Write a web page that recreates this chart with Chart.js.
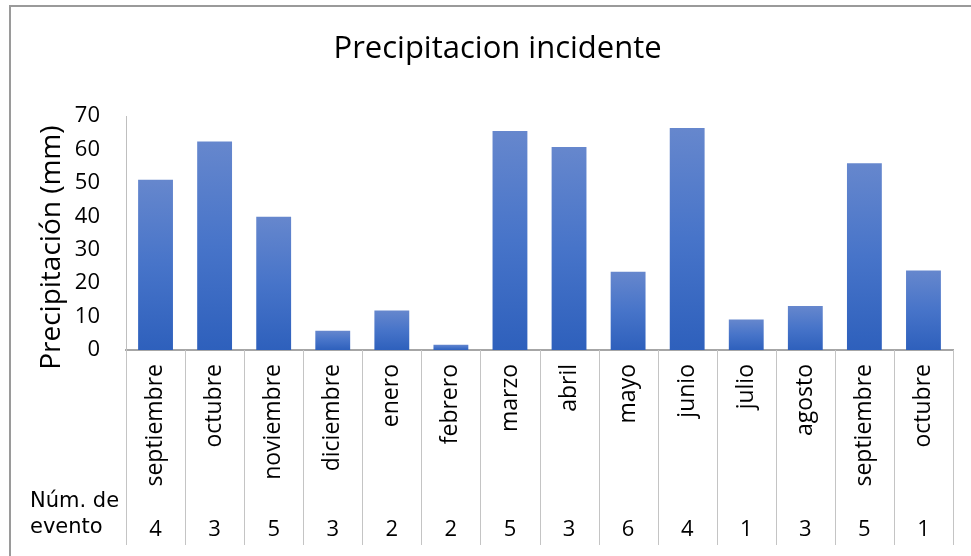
<!DOCTYPE html>
<html lang="es">
  <head>
    <meta charset="UTF-8" />
    <title>Precipitacion incidente</title>
    <script src="https://cdn.jsdelivr.net/npm/chart.js"></script>
    <style>
      html, body { margin: 0; padding: 0; background: #ffffff; }
      #chartBox { width: 971px; height: 556px; position: relative; }
    </style>
  </head>
  <body>
    <div id="chartBox">
      <canvas id="lluviaChart"></canvas>
    </div>

    <script>
      // datos
      var meses = ["septiembre", "octubre", "noviembre", "diciembre", "enero", "febrero",
        "marzo", "abril", "mayo", "junio", "julio", "agosto", "septiembre", "octubre"];
      var precipitacion = [51, 62.4, 39.9, 5.8, 11.8, 1.6, 65.6, 60.8, 23.4, 66.5, 9.1, 13.2, 55.9, 23.8];
      var eventos = ["4", "3", "5", "3", "2", "2", "5", "3", "6", "4", "1", "3", "5", "1"];
      var ticksY = [0, 10, 20, 30, 40, 50, 60, 70];

      var fuente = "'Open Sans', sans-serif";

      // degradado de cada barra, de arriba (claro) a la base (oscuro)
      function colorBarra(context) {
        var chart = context.chart;
        if (!chart.chartArea || context.type !== "data") return "#4472c4";
        var y = chart.scales.y;
        var arriba = y.getPixelForValue(context.raw);
        var base = y.getPixelForValue(0);
        if (base - arriba < 1) return "#4472c4";
        var g = chart.ctx.createLinearGradient(0, arriba, 0, base);
        g.addColorStop(0, "#6687cd");
        g.addColorStop(0.5, "#4774c9");
        g.addColorStop(1, "#2e60bc");
        return g;
      }

      // separadores de la tabla, rotulo "Núm. de evento" y marco
      var tablaPlugin = {
        id: "tabla",
        afterDraw: function (chart) {
          var ctx = chart.ctx;
          var x = chart.scales.x;
          var x2 = chart.scales.x2;
          var paso = x.getPixelForValue(1) - x.getPixelForValue(0);
          ctx.save();
          ctx.strokeStyle = "#c4c4c4";
          ctx.lineWidth = 1;
          for (var i = 0; i <= meses.length; i++) {
            var px = Math.round(x.getPixelForValue(i) - paso / 2) + 0.5;
            ctx.beginPath();
            ctx.moveTo(px, chart.chartArea.bottom);
            ctx.lineTo(px, x2.bottom);
            ctx.stroke();
          }
          ctx.fillStyle = "#000000";
          ctx.font = "21px 'DejaVu Sans'";
          ctx.textAlign = "left";
          ctx.textBaseline = "alphabetic";
          ctx.fillText("Núm. de", 30, x2.top + 14);
          ctx.fillText("evento", 30, x2.top + 40);

          // marco exterior
          ctx.strokeStyle = "#9a9a9a";
          ctx.lineWidth = 2;
          ctx.beginPath();
          ctx.moveTo(10, 560);
          ctx.lineTo(10, 6);
          ctx.lineTo(975, 6);
          ctx.stroke();
          ctx.restore();
        },
      };

      var ctx = document.getElementById("lluviaChart").getContext("2d");
      var lluviaChart = new Chart(ctx, {
        type: "bar",
        data: {
          labels: meses,
          datasets: [
            {
              label: "Precipitación (mm)",
              data: precipitacion,
              backgroundColor: colorBarra,
              borderWidth: 0,
              categoryPercentage: 1,
              barPercentage: 0.59,
            },
          ],
        },
        options: {
          responsive: true,
          maintainAspectRatio: false,
          animation: false,
          layout: { padding: { top: 6, left: 10, right: 18, bottom: 11 } },
          plugins: {
            legend: { display: false },
            tooltip: { enabled: false },
            title: {
              display: true,
              // espacios delante para centrar sobre el area del grafico
              text: "    Precipitacion incidente",
              color: "#000000",
              font: { family: fuente, size: 31, weight: "normal" },
              padding: { top: 25, bottom: 48 },
            },
          },
          scales: {
            x: {
              position: "bottom",
              weight: 0,
              offset: true,
              grid: { display: false, drawTicks: false, offset: true },
              border: { display: true, color: "#a6a6a6", width: 2 },
              ticks: {
                autoSkip: false,
                maxRotation: 90,
                minRotation: 90,
                padding: 14,
                color: "#000000",
                font: { family: fuente, size: 23 },
              },
              afterFit: function (scale) {
                scale.height = 143;
              },
            },
            x2: {
              type: "category",
              position: "bottom",
              weight: 1,
              offset: true,
              labels: eventos,
              grid: { display: false, drawTicks: false },
              border: { display: false },
              ticks: {
                autoSkip: false,
                maxRotation: 0,
                minRotation: 0,
                padding: 24,
                color: "#000000",
                font: { family: fuente, size: 22 },
              },
              afterFit: function (scale) {
                scale.height = 52;
              },
            },
            y: {
              min: 0,
              max: 70,
              grid: { display: false, drawTicks: false },
              border: { display: true, color: "#bfbfbf", width: 1 },
              afterBuildTicks: function (scale) {
                scale.ticks = ticksY.map(function (v) { return { value: v }; });
              },
              ticks: {
                padding: 26,
                color: "#000000",
                font: { family: fuente, size: 22 },
              },
              title: {
                display: true,
                text: "Precipitación (mm)    ",
                color: "#000000",
                font: { family: fuente, size: 28, weight: "normal" },
                padding: { top: 25, bottom: 0 },
              },
              afterFit: function (scale) {
                scale.width = 116;
              },
            },
          },
        },
        plugins: [tablaPlugin],
      });
    </script>
  </body>
</html>
